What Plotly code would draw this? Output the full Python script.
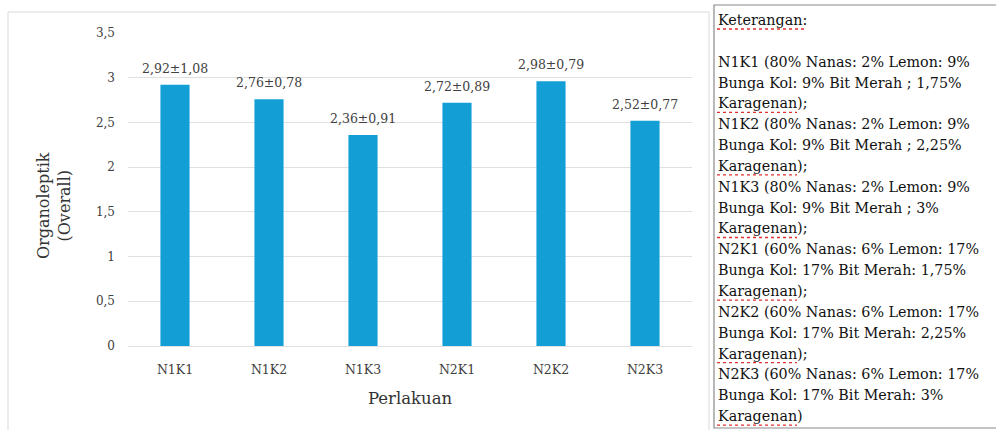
import plotly.graph_objects as go

categories = ["N1K1", "N1K2", "N1K3", "N2K1", "N2K2", "N2K3"]
means = [2.92, 2.76, 2.36, 2.72, 2.96, 2.52]
bar_labels = ["2,92±1,08", "2,76±0,78", "2,36±0,91", "2,72±0,89", "2,98±0,79", "2,52±0,77"]
y_ticks = [0, 0.5, 1, 1.5, 2, 2.5, 3, 3.5]
y_tick_labels = ["0", "0,5", "1", "1,5", "2", "2,5", "3", "3,5"]
legend_lines = [
    "Keterangan:",
    "",
    "N1K1 (80% Nanas: 2% Lemon: 9%",
    "Bunga Kol: 9% Bit Merah ; 1,75%",
    "Karagenan);",
    "N1K2 (80% Nanas: 2% Lemon: 9%",
    "Bunga Kol: 9% Bit Merah ; 2,25%",
    "Karagenan);",
    "N1K3 (80% Nanas: 2% Lemon: 9%",
    "Bunga Kol: 9% Bit Merah ; 3%",
    "Karagenan);",
    "N2K1 (60% Nanas: 6% Lemon: 17%",
    "Bunga Kol: 17% Bit Merah: 1,75%",
    "Karagenan);",
    "N2K2 (60% Nanas: 6% Lemon: 17%",
    "Bunga Kol: 17% Bit Merah: 2,25%",
    "Karagenan);",
    "N2K3 (60% Nanas: 6% Lemon: 17%",
    "Bunga Kol: 17% Bit Merah: 3%",
    "Karagenan)",
]

W, H = 996, 430
L, R, T, B = 128, 304, 33, 84
PW, PH = W - L - R, H - T - B
SERIF = "DejaVu Serif"


def px(x):
    return (x - L) / PW


def py(y):
    return (H - B - y) / PH


fig = go.Figure()
fig.add_trace(go.Bar(
    x=categories, y=means, width=0.31,
    marker=dict(color="#139FD6", line=dict(width=0)),
    hoverinfo="x+y",
))

annotations = []
for c, v, t in zip(categories, means, bar_labels):
    annotations.append(dict(
        x=c, y=v, xref="x", yref="y", text=t, showarrow=False,
        yanchor="bottom", yshift=7,
        font=dict(family=SERIF, size=12.5, color="#404040"),
    ))

# y-axis title (two lines)
annotations.append(dict(
    x=px(54), y=py(206), xref="paper", yref="paper",
    text="Organoleptik<br>(Overall)", showarrow=False, textangle=-90,
    font=dict(family=SERIF, size=16, color="#333333"),
    xanchor="center", yanchor="middle",
))

shapes = [
    # chart outer border
    dict(type="rect", xref="paper", yref="paper",
         x0=px(8), x1=px(709), y0=py(440), y1=py(12),
         line=dict(color="#d9d9d9", width=1), layer="below"),
    # description box
    dict(type="rect", xref="paper", yref="paper",
         x0=px(714), x1=px(1010), y0=py(428), y1=py(5),
         line=dict(color="#8a8a8a", width=1.2), fillcolor="white"),
]

# description text
line_h = 20.85
for i, s in enumerate(legend_lines):
    if not s:
        continue
    yc = 20 + i * line_h
    annotations.append(dict(
        x=px(716), y=py(yc), xref="paper", yref="paper",
        text=s, showarrow=False, xanchor="left", yanchor="middle",
        font=dict(family=SERIF, size=14.3, color="#111111"),
    ))
    # spell-check style underlines
    if s.startswith("Keterangan") or s.startswith("Karagenan"):
        x_end = 806 if s.startswith("Keterangan") else 797
        shapes.append(dict(
            type="line", xref="paper", yref="paper",
            x0=px(717), x1=px(x_end), y0=py(yc + 9), y1=py(yc + 9),
            line=dict(color="#e03030", width=1.3, dash="dot"),
        ))

fig.update_layout(
    width=W, height=H,
    margin=dict(l=L, r=R, t=T, b=B, pad=0),
    paper_bgcolor="white", plot_bgcolor="white",
    showlegend=False,
    annotations=annotations,
    shapes=shapes,
    xaxis=dict(
        showgrid=False, showline=False, zeroline=False,
        ticks="", ticklabelstandoff=14,
        tickfont=dict(family=SERIF, size=12.5, color="#404040"),
        title=dict(text="Perlakuan", standoff=16,
                   font=dict(family=SERIF, size=16.5, color="#333333")),
    ),
    yaxis=dict(
        range=[0, 3.5], tickvals=y_ticks, ticktext=y_tick_labels,
        showgrid=True, gridcolor="#e0e0e0", gridwidth=1,
        zeroline=True, zerolinecolor="#e0e0e0", zerolinewidth=1,
        showline=False, ticks="", ticklabelstandoff=12,
        tickfont=dict(family=SERIF, size=12, color="#404040"),
    ),
)

fig.write_html("out.html")
